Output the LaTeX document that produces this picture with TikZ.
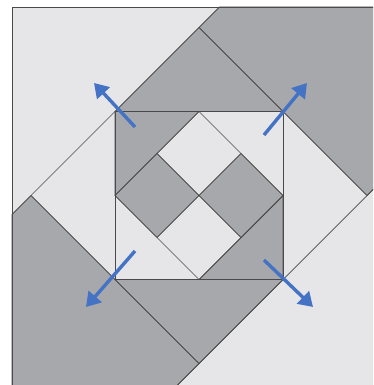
\documentclass[tikz,border=0pt]{standalone}
\usetikzlibrary{arrows.meta}
\definecolor{lightq}{HTML}{E6E6E9}
\definecolor{darkq}{HTML}{A7A8AC}
\definecolor{edgeq}{HTML}{4A4A4A}
\definecolor{arrowblue}{HTML}{4472C4}
\tikzset{
  piece/.style={draw=edgeq, line width=0.7pt, line join=round},
  darkpiece/.style={piece, fill=darkq},
  seam/.style={draw=edgeq, line width=0.7pt},
  push/.style={draw=arrowblue, line width=3.4pt, -{Triangle[length=14pt,width=17pt]}}
}
\begin{document}
\begin{tikzpicture}[x=1pt,y=-1pt]
\useasboundingbox (0,0) rectangle (373,385);
\begin{scope}
\clip (0,0) rectangle (373,385);
% background quilt
\fill[lightq] (12,7) rectangle (400,400);
% key points
\coordinate (T) at (199,27.5);
\coordinate (R) at (367,195.5);
\coordinate (B) at (199,363.5);
\coordinate (L) at (31,195.5);
\coordinate (q1) at (115,111.5);
\coordinate (q2) at (283,111.5);
\coordinate (q3) at (283,279.5);
\coordinate (q4) at (115,279.5);
\coordinate (mt) at (199,111.5);
\coordinate (mr) at (283,195.5);
\coordinate (mb) at (199,279.5);
\coordinate (ml) at (115,195.5);
\coordinate (C) at (199,195.5);
\coordinate (a1) at (157,153.5);
\coordinate (a2) at (241,153.5);
\coordinate (a3) at (241,237.5);
\coordinate (a4) at (157,237.5);
% dark regions
\path[darkpiece] (219.5,7) -- (400,7) -- (400,162.5) -- (R) -- (T) -- cycle;
\path[darkpiece] (12,214.5) -- (L) -- (B) -- (162.5,400) -- (12,400) -- cycle;
\path[darkpiece] (q1) -- (T) -- (q2) -- cycle;
\path[darkpiece] (q4) -- (B) -- (q3) -- cycle;
\path[darkpiece] (q1) -- (mt) -- (ml) -- cycle;
\path[darkpiece] (q3) -- (mb) -- (mr) -- cycle;
\path[darkpiece] (ml) -- (a1) -- (C) -- (a4) -- cycle;
\path[darkpiece] (mr) -- (a2) -- (C) -- (a3) -- cycle;
% seams
\draw[seam] (12,400) -- (12,7) -- (400,7);
\draw[seam] (12,214.5) -- (219.5,7);
\draw[seam] (400,162.5) -- (162.5,400);
\draw[seam] (T) -- (R);
\draw[seam] (L) -- (B);
\draw[seam] (q1) rectangle (q3);
\draw[seam] (mt) -- (mr) -- (mb) -- (ml) -- cycle;
\draw[seam] (a1) -- (a3);
\draw[seam] (a2) -- (a4);
\end{scope}
% arrows
\coordinate (t1) at (135,127);
\coordinate (h1) at (94,83);
\coordinate (t2) at (264,135);
\coordinate (h2) at (307,83);
\coordinate (t3) at (135,251);
\coordinate (h3) at (86,307);
\coordinate (t4) at (264,260);
\coordinate (h4) at (313,307);
\draw[push] (t1) -- (h1);
\draw[push] (t2) -- (h2);
\draw[push] (t3) -- (h3);
\draw[push] (t4) -- (h4);
\end{tikzpicture}
\end{document}
